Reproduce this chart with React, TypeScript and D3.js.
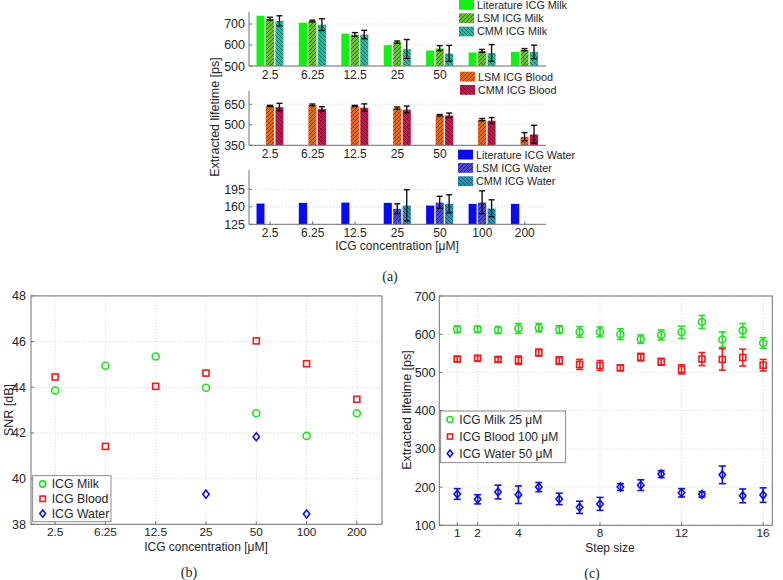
import React from "react";
import * as d3 from "d3";

// ---------- Panel (a) data ----------
const concLabels = ["2.5", "6.25", "12.5", "25", "50", "100", "200"];
const milkLit = [740, 706, 655, 600, 575, 566, 568];
const milkLSM = [725, 714, 650, 614, 585, 572, 578];
const milkLSMErr = [7, 4, 9, 5, 12, 7, 5];
const milkCMM = [715, 697, 650, 581, 560, 562, 567];
const milkCMMErr = [24, 28, 20, 45, 38, 40, 32];
const bloodLSM = [638, 646, 638, 622, 570, 538, 413];
const bloodLSMErr = [4, 6, 4, 8, 5, 8, 30];
const bloodCMM = [630, 616, 626, 612, 570, 531, 431];
const bloodCMMErr = [27, 16, 27, 25, 16, 22, 65];
const waterLit = [167, 168, 169, 168, 163, 166, 166];
const waterLSM = [null, null, null, 156, 169, 169, null];
const waterLSMErr = [0, 0, 0, 10, 12, 23, 0];
const waterCMM = [null, null, null, 163, 166, 157, null];
const waterCMMErr = [0, 0, 0, 31, 18, 17, 0];
const milkTicks = [500, 600, 700];
const bloodTicks = [350, 500, 650];
const waterTicks = [125, 160, 195];

// ---------- Panel (b) data ----------
const snrMilk = [43.86, 44.94, 45.35, 43.98, 42.86, 41.87, 42.86];
const snrBlood = [44.45, 41.41, 44.04, 44.62, 46.03, 45.03, 43.47];
const snrWater = [null, null, null, 39.32, 41.83, 38.45, null];
const snrTicks = [38, 40, 42, 44, 46, 48];

// ---------- Panel (c) data ----------
const steps = [1, 2, 3, 4, 5, 6, 7, 8, 9, 10, 11, 12, 13, 14, 15, 16];
const stepMilk = [613, 613, 611, 615, 617, 612, 606, 606, 600, 587, 598, 605, 632, 586, 610, 577];
const stepMilkErr = [9, 8, 9, 13, 11, 10, 14, 13, 14, 11, 13, 16, 17, 20, 18, 14];
const stepBlood = [535, 537, 534, 532, 552, 531, 521, 518, 512, 540, 528, 508, 535, 534, 539, 519];
const stepBloodErr = [7, 7, 6, 11, 9, 10, 13, 13, 7, 10, 9, 12, 17, 28, 22, 15];
const stepWater = [182, 168, 187, 180, 200, 169, 147, 156, 200, 205, 234, 185, 181, 232, 177, 179];
const stepWaterErr = [14, 12, 18, 23, 12, 15, 16, 17, 9, 14, 9, 11, 7, 23, 18, 19];
const stepTicksX = [1, 2, 4, 8, 12, 16];
const stepTicksY = [100, 200, 300, 400, 500, 600, 700];

const SANS = "'Liberation Sans', Arial, sans-serif";
const SERIF = "'Liberation Serif', 'DejaVu Serif', serif";
const TXT = "#262626";
const AX = "#707070";
const GRID = "#d4d4d4";

const GREEN = "#22e022";
const RED = "#ee1c1c";
const BLUE = "#1010e0";

type Series = { key: string; vals: (number | null)[]; errs?: number[]; fill: string };

function Patterns() {
  const mk = (id: string, bg: string, fg: string, dir: "f" | "b") => (
    <pattern id={id} key={id} patternUnits="userSpaceOnUse" width={4} height={4}>
      <rect width={4} height={4} fill={bg} />
      <path
        d={dir === "f" ? "M-1,1 l2,-2 M0,4 l4,-4 M3,5 l2,-2" : "M-1,3 l2,2 M0,0 l4,4 M3,-1 l2,2"}
        stroke={fg}
        strokeWidth={1}
      />
    </pattern>
  );
  return (
    <defs>
      {mk("mLSM", "#66c22e", "#2f7a12", "f")}
      {mk("mCMM", "#2cb89c", "#137562", "b")}
      {mk("bLSM", "#e2681c", "#9a3a08", "f")}
      {mk("bCMM", "#c81450", "#7a0a2c", "b")}
      {mk("wLSM", "#4a4ad0", "#22228a", "f")}
      {mk("wCMM", "#2a90b4", "#0e5a78", "b")}
    </defs>
  );
}

function BarPanel({
  top, bottom, domain, ticks, series, shownLabels,
}: {
  top: number; bottom: number; domain: [number, number]; ticks: number[]; series: Series[]; shownLabels: number;
}) {
  const x = d3.scaleBand<string>().domain(concLabels).range([249, 546]);
  const sub = d3.scaleBand<string>().domain(["lit", "lsm", "cmm"]).range([-14, 13.5]).paddingInner(0.1);
  const y = d3.scaleLinear().domain(domain).range([bottom, top]);
  return (
    <g>
      {ticks.map((t) => (
        <line key={"g" + t} x1={249} x2={546} y1={y(t)} y2={y(t)} stroke={GRID} strokeDasharray="1,2" />
      ))}
      {series.map((s) =>
        s.vals.map((v, i) => {
          if (v == null) return null;
          const cx = (x(concLabels[i]) as number) + x.bandwidth() / 2;
          const bx = cx + (sub(s.key) as number);
          const bw = sub.bandwidth();
          const e = s.errs ? s.errs[i] : 0;
          return (
            <g key={s.key + i}>
              <rect x={bx} y={y(v)} width={bw} height={bottom - y(v)} fill={s.fill} stroke="#ffffff" strokeWidth={0.4} />
              {s.errs && e > 0 && (
                <g stroke="#111" strokeWidth={1.4}>
                  <line x1={bx + bw / 2} x2={bx + bw / 2} y1={y(v + e)} y2={y(v - e)} />
                  <line x1={bx + bw / 2 - 3} x2={bx + bw / 2 + 3} y1={y(v + e)} y2={y(v + e)} />
                  <line x1={bx + bw / 2 - 3} x2={bx + bw / 2 + 3} y1={y(v - e)} y2={y(v - e)} />
                </g>
              )}
            </g>
          );
        })
      )}
      <line x1={249} x2={249} y1={top} y2={bottom} stroke={AX} />
      <line x1={249} x2={546} y1={bottom} y2={bottom} stroke={AX} />
      {ticks.map((t) => (
        <g key={"t" + t}>
          <line x1={249} x2={252} y1={y(t)} y2={y(t)} stroke={AX} />
          <text x={245} y={y(t) + 4.5} textAnchor="end" fontSize={12.5} fontFamily={SANS} fill={TXT}>{t}</text>
        </g>
      ))}
      {concLabels.map((c, i) => {
        const cx = (x(c) as number) + x.bandwidth() / 2;
        return (
          <g key={"x" + c}>
            <line x1={cx} x2={cx} y1={bottom} y2={bottom - 3} stroke={AX} />
            {i < shownLabels && (
              <text x={cx} y={bottom + 13} textAnchor="middle" fontSize={12} fontFamily={SANS} fill={TXT}>{c}</text>
            )}
          </g>
        );
      })}
    </g>
  );
}

function BarLegend({ x0, y0, w, items }: { x0: number; y0: number; w: number; items: { label: string; fill: string }[] }) {
  const rowH = 13.3;
  return (
    <g>
      <rect x={x0 - 1} y={y0 - 1} width={w} height={items.length * rowH + 1} fill="#fff" />
      {items.map((it, i) => (
        <g key={it.label}>
          <rect x={x0} y={y0 + i * rowH} width={15} height={9.8} fill={it.fill} />
          <text x={x0 + 18} y={y0 + i * rowH + 8.8} fontSize={10.8} fontFamily={SANS} fill={TXT}>{it.label}</text>
        </g>
      ))}
    </g>
  );
}

function Marker({ type, x, y, color, s = 1 }: { type: string; x: number; y: number; color: string; s?: number }) {
  if (type === "circle") return <circle cx={x} cy={y} r={3.5 * s} fill="none" stroke={color} strokeWidth={1.6} />;
  if (type === "square")
    return <rect x={x - 3 * s} y={y - 3 * s} width={6 * s} height={6 * s} fill="none" stroke={color} strokeWidth={1.6} />;
  return (
    <path
      d={`M${x},${y - 4 * s} L${x + 3.2 * s},${y} L${x},${y + 4 * s} L${x - 3.2 * s},${y} Z`}
      fill="none"
      stroke={color}
      strokeWidth={1.6}
    />
  );
}

function PanelB() {
  const x = d3.scaleLinear().domain([-0.48, 6.5]).range([31, 382]);
  const y = d3.scaleLinear().domain([38, 48]).range([524.3, 295.9]);
  const L = 31, R = 382, T = 295.9, B = 524.3;
  const series = [
    { vals: snrMilk, type: "circle", color: GREEN, label: "ICG Milk" },
    { vals: snrBlood, type: "square", color: RED, label: "ICG Blood" },
    { vals: snrWater, type: "diamond", color: BLUE, label: "ICG Water" },
  ];
  return (
    <g>
      {snrTicks.map((t) => (
        <line key={"gy" + t} x1={L} x2={R} y1={y(t)} y2={y(t)} stroke={GRID} strokeDasharray="1,2" />
      ))}
      {concLabels.map((c, i) => (
        <line key={"gx" + c} x1={x(i)} x2={x(i)} y1={T} y2={B} stroke={GRID} strokeDasharray="1,2" />
      ))}
      <rect x={L} y={T} width={R - L} height={B - T} fill="none" stroke={AX} />
      {snrTicks.map((t) => (
        <g key={"ty" + t}>
          <line x1={L} x2={L + 3} y1={y(t)} y2={y(t)} stroke={AX} />
          <text x={26} y={y(t) + 4.5} textAnchor="end" fontSize={12.5} fontFamily={SANS} fill={TXT}>{t}</text>
        </g>
      ))}
      {concLabels.map((c, i) => (
        <g key={"tx" + c}>
          <line x1={x(i)} x2={x(i)} y1={B} y2={B - 3} stroke={AX} />
          <text x={x(i)} y={B + 12} textAnchor="middle" fontSize={11.8} fontFamily={SANS} fill={TXT}>{c}</text>
        </g>
      ))}
      {series.map((s) =>
        s.vals.map((v, i) => (v == null ? null : <Marker key={s.label + i} type={s.type} x={x(i)} y={y(v)} color={s.color} />))
      )}
      <rect x={32.7} y={475.7} width={78.3} height={46} fill="#fff" stroke={AX} strokeWidth={0.8} />
      {series.map((s, i) => (
        <g key={"lg" + s.label}>
          <Marker type={s.type} x={42.7} y={484 + i * 14.8} color={s.color} s={0.9} />
          <text x={51.7} y={488.3 + i * 14.8} fontSize={12.3} fontFamily={SANS} fill={TXT}>{s.label}</text>
        </g>
      ))}
      <text x={206} y={550.5} textAnchor="middle" fontSize={12} fontFamily={SANS} fill={TXT}>ICG concentration [μM]</text>
      <text transform="translate(13,410) rotate(-90)" textAnchor="middle" fontSize={12.5} fontFamily={SANS} fill={TXT}>SNR [dB]</text>
      <text x={189} y={577} textAnchor="middle" fontSize={14} fontFamily={SERIF} fill={TXT}>(b)</text>
    </g>
  );
}

function PanelC() {
  const x = d3.scaleLinear().domain([0.12, 16.45]).range([439.3, 772.3]);
  const y = d3.scaleLinear().domain([100, 700]).range([525.3, 296]);
  const L = 439.3, R = 772.3, T = 296, B = 525.3;
  const series = [
    { vals: stepMilk, errs: stepMilkErr, type: "circle", color: GREEN, label: "ICG Milk 25 μM" },
    { vals: stepBlood, errs: stepBloodErr, type: "square", color: RED, label: "ICG Blood 100 μM" },
    { vals: stepWater, errs: stepWaterErr, type: "diamond", color: BLUE, label: "ICG Water 50 μM" },
  ];
  return (
    <g>
      {stepTicksY.map((t) => (
        <line key={"gy" + t} x1={L} x2={R} y1={y(t)} y2={y(t)} stroke={GRID} strokeDasharray="1,2" />
      ))}
      {stepTicksX.map((t) => (
        <line key={"gx" + t} x1={x(t)} x2={x(t)} y1={T} y2={B} stroke={GRID} strokeDasharray="1,2" />
      ))}
      <rect x={L} y={T} width={R - L} height={B - T} fill="none" stroke={AX} />
      {stepTicksY.map((t) => (
        <g key={"ty" + t}>
          <line x1={L} x2={L + 3} y1={y(t)} y2={y(t)} stroke={AX} />
          <text x={435.5} y={y(t) + 4.5} textAnchor="end" fontSize={12.5} fontFamily={SANS} fill={TXT}>{t}</text>
        </g>
      ))}
      {stepTicksX.map((t) => (
        <g key={"tx" + t}>
          <line x1={x(t)} x2={x(t)} y1={B} y2={B - 3} stroke={AX} />
          <text x={x(t)} y={B + 12} textAnchor="middle" fontSize={11.8} fontFamily={SANS} fill={TXT}>{t}</text>
        </g>
      ))}
      {series.map((s) =>
        s.vals.map((v, i) => {
          const px = x(steps[i]);
          const e = s.errs[i];
          return (
            <g key={s.label + i}>
              <g stroke={s.color} strokeWidth={1.6}>
                <line x1={px} x2={px} y1={y(v + e)} y2={y(v - e)} />
                <line x1={px - 3.5} x2={px + 3.5} y1={y(v + e)} y2={y(v + e)} />
                <line x1={px - 3.5} x2={px + 3.5} y1={y(v - e)} y2={y(v - e)} />
              </g>
              <Marker type={s.type} x={px} y={y(v)} color={s.color} />
            </g>
          );
        })
      )}
      <rect x={440.7} y={411} width={125} height={51.7} fill="#fff" stroke={AX} strokeWidth={0.8} />
      {series.map((s, i) => (
        <g key={"lg" + s.label}>
          <Marker type={s.type} x={450} y={419.5 + i * 17} color={s.color} s={0.85} />
          <text x={459.3} y={423.8 + i * 17} fontSize={12} fontFamily={SANS} fill={TXT}>{s.label}</text>
        </g>
      ))}
      <text x={610} y={551.5} textAnchor="middle" fontSize={12} fontFamily={SANS} fill={TXT}>Step size</text>
      <text transform="translate(411,410) rotate(-90)" textAnchor="middle" fontSize={12.5} fontFamily={SANS} fill={TXT}>Extracted lifetime [ps]</text>
      <text x={592} y={578} textAnchor="middle" fontSize={14} fontFamily={SERIF} fill={TXT}>(c)</text>
    </g>
  );
}

export default function App() {
  return (
    <svg width={783} height={580} style={{ position: "absolute", left: 0, top: 0, background: "#fff" }}>
      <Patterns />
      <BarPanel
        top={12}
        bottom={66}
        domain={[500, 757]}
        ticks={milkTicks}
        shownLabels={5}
        series={[
          { key: "lit", vals: milkLit, fill: "#14f014" },
          { key: "lsm", vals: milkLSM, errs: milkLSMErr, fill: "url(#mLSM)" },
          { key: "cmm", vals: milkCMM, errs: milkCMMErr, fill: "url(#mCMM)" },
        ]}
      />
      <BarPanel
        top={91}
        bottom={145.3}
        domain={[350, 747]}
        ticks={bloodTicks}
        shownLabels={5}
        series={[
          { key: "lsm", vals: bloodLSM, errs: bloodLSMErr, fill: "url(#bLSM)" },
          { key: "cmm", vals: bloodCMM, errs: bloodCMMErr, fill: "url(#bCMM)" },
        ]}
      />
      <BarPanel
        top={170}
        bottom={224.3}
        domain={[125, 233.6]}
        ticks={waterTicks}
        shownLabels={7}
        series={[
          { key: "lit", vals: waterLit, fill: "#0a0af5" },
          { key: "lsm", vals: waterLSM, errs: waterLSMErr, fill: "url(#wLSM)" },
          { key: "cmm", vals: waterCMM, errs: waterCMMErr, fill: "url(#wCMM)" },
        ]}
      />
      <BarLegend
        x0={459}
        y0={0}
        w={110}
        items={[
          { label: "Literature ICG Milk", fill: "#14f014" },
          { label: "LSM ICG Milk", fill: "url(#mLSM)" },
          { label: "CMM ICG Milk", fill: "url(#mCMM)" },
        ]}
      />
      <BarLegend
        x0={460}
        y0={71.7}
        w={100}
        items={[
          { label: "LSM ICG Blood", fill: "url(#bLSM)" },
          { label: "CMM ICG Blood", fill: "url(#bCMM)" },
        ]}
      />
      <BarLegend
        x0={458}
        y0={149.7}
        w={118}
        items={[
          { label: "Literature ICG Water", fill: "#0a0af5" },
          { label: "LSM ICG Water", fill: "url(#wLSM)" },
          { label: "CMM ICG Water", fill: "url(#wCMM)" },
        ]}
      />
      <text transform="translate(219,117) rotate(-90)" textAnchor="middle" fontSize={12.5} fontFamily={SANS} fill={TXT}>Extracted lifetime [ps]</text>
      <text x={397} y={250} textAnchor="middle" fontSize={12} fontFamily={SANS} fill={TXT}>ICG concentration [μM]</text>
      <text x={390} y={281} textAnchor="middle" fontSize={14} fontFamily={SERIF} fill={TXT}>(a)</text>
      <PanelB />
      <PanelC />
    </svg>
  );
}
